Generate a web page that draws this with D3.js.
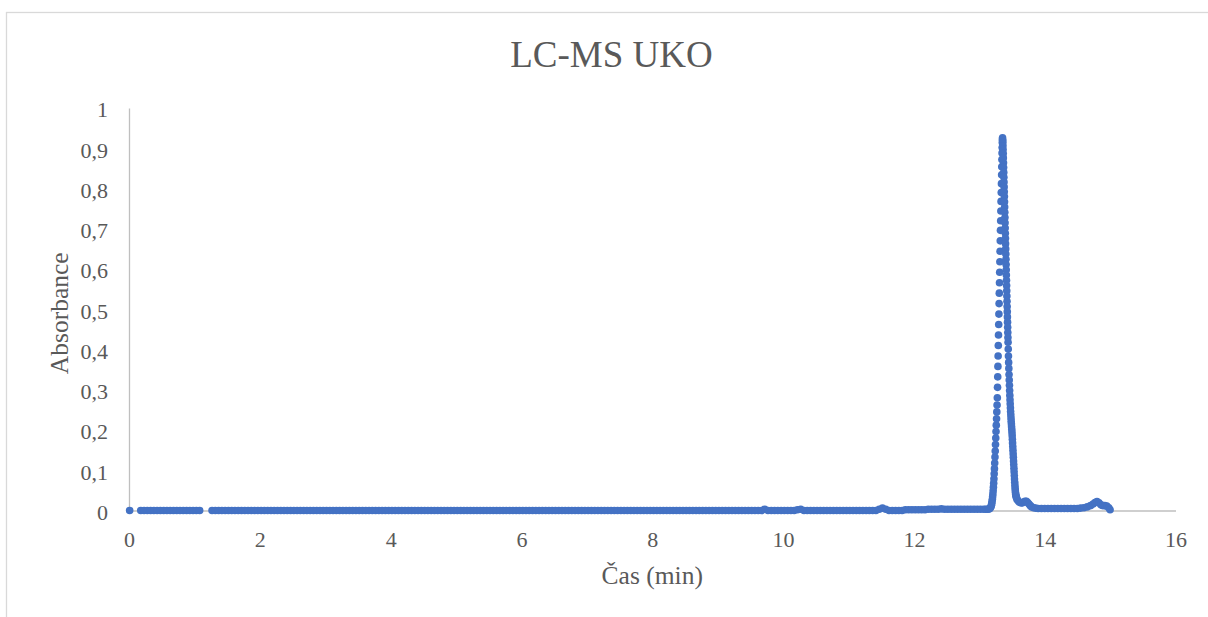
<!DOCTYPE html>
<html>
<head>
<meta charset="utf-8">
<script src="https://cdn.jsdelivr.net/npm/d3@7"></script>
<style>
  body { margin: 0; background: #fff; }
  svg { display: block; font-family: "Liberation Serif", "Times New Roman", serif; }
</style>
</head>
<body>
<svg id="chart" width="1208" height="617"></svg>
<script>
// Chromatogram trace: retention time (min) and absorbance.
// Baseline before the main peak (two acquisition runs separated by a short gap).
const baselineTime = [
  0.01,
  0.18,0.23,0.28,0.33,0.38,0.43,0.48,0.53,0.58,0.63,0.68,0.73,0.78,0.83,0.88,0.93,0.98,1.03,1.08,
  1.27,1.32,1.37,1.42,1.47,1.52,1.57,1.62,1.67,1.72,1.77,1.82,1.87,1.92,1.97,
  2.02,2.07,2.12,2.17,2.22,2.27,2.32,2.37,2.42,2.47,2.52,2.57,2.62,2.67,2.72,2.77,2.82,2.87,2.92,2.97,
  3.02,3.07,3.12,3.17,3.22,3.27,3.32,3.37,3.42,3.47,3.52,3.57,3.62,3.67,3.72,3.77,3.82,3.87,3.92,3.97,
  4.02,4.07,4.12,4.17,4.22,4.27,4.32,4.37,4.42,4.47,4.52,4.57,4.62,4.67,4.72,4.77,4.82,4.87,4.92,4.97,
  5.02,5.07,5.12,5.17,5.22,5.27,5.32,5.37,5.42,5.47,5.52,5.57,5.62,5.67,5.72,5.77,5.82,5.87,5.92,5.97,
  6.02,6.07,6.12,6.17,6.22,6.27,6.32,6.37,6.42,6.47,6.52,6.57,6.62,6.67,6.72,6.77,6.82,6.87,6.92,6.97,
  7.02,7.07,7.12,7.17,7.22,7.27,7.32,7.37,7.42,7.47,7.52,7.57,7.62,7.67,7.72,7.77,7.82,7.87,7.92,7.97,
  8.02,8.07,8.12,8.17,8.22,8.27,8.32,8.37,8.42,8.47,8.52,8.57,8.62,8.67,8.72,8.77,8.82,8.87,8.92,8.97,
  9.02,9.07,9.12,9.17,9.22,9.27,9.32,9.37,9.42,9.47,9.52,9.57,9.62,9.67,9.72,9.77,9.82,9.87,9.92,9.97,
  10.02,10.07,10.12,10.17,10.22,10.27,10.32,10.37,10.42,10.47,10.52,10.57,10.62,10.67,10.72,10.77,10.82,10.87,10.92,10.97,
  11.02,11.07,11.12,11.17,11.22,11.27,11.32,11.37,11.42,11.47,11.52,11.57,11.62,11.67,11.72,11.77,11.82,11.87,11.92,11.97,
  12.02,12.07,12.12,12.17,12.22,12.27,12.32,12.37,12.42,12.47,12.52,12.57,12.62,12.67,12.72,12.77,12.82,12.87,12.92,12.97,
  13.02,13.07
];
const baselineAbs = [
  0,
  0,0,0,0,0,0,0,0,0,0,0,0,0,0,0,0,0,0,0,
  0,0,0,0,0,0,0,0,0,0,0,0,0,0,0,
  0,0,0,0,0,0,0,0,0,0,0,0,0,0,0,0,0,0,0,0,
  0,0,0,0,0,0,0,0,0,0,0,0,0,0,0,0,0,0,0,0,
  0,0,0,0,0,0,0,0,0,0,0,0,0,0,0,0,0,0,0,0,
  0,0,0,0,0,0,0,0,0,0,0,0,0,0,0,0,0,0,0,0,
  0,0,0,0,0,0,0,0,0,0,0,0,0,0,0,0,0,0,0,0,
  0,0,0,0,0,0,0,0,0,0,0,0,0,0,0,0,0,0,0,0,
  0,0,0,0,0,0,0,0,0,0,0,0,0,0,0,0,0,0,0,0,
  0,0,0,0,0,0,0,0,0,0,0,0,0,0,0.003,0,0,0,0,0,
  0,0,0,0,0.002,0.003,0,0,0,0,0,0,0,0,0,0,0,0,0,0,
  0,0,0,0,0,0,0,0,0,0.003,0.006,0.003,0,0,0,0,0,0.002,0.002,0.002,
  0.002,0.002,0.002,0.002,0.003,0.003,0.003,0.003,0.004,0.003,0.003,0.003,0.003,0.003,0.003,0.003,0.003,0.003,0.003,0.003,
  0.003,0.003
];

// Main peak, its tail and the late small peak near 14.8 min.
const peakTime = [
  13.1,13.13,13.15,13.16,13.17,13.18,13.185,13.19,13.195,13.2,
  13.204,13.208,13.212,13.216,13.22,13.224,13.228,13.232,13.236,13.24,
  13.244,13.248,13.252,13.256,13.26,13.264,13.268,13.272,13.276,13.279,
  13.282,13.285,13.288,13.291,13.294,13.297,13.3,13.303,13.306,13.309,
  13.312,13.315,13.318,13.321,13.324,13.327,13.33,13.333,13.336,13.339,
  13.342,13.344,13.346,13.348,13.35,13.352,13.354,13.356,13.358,13.36,
  13.362,13.364,13.366,13.368,13.37,13.372,13.374,13.376,13.378,13.38,
  13.382,13.384,13.386,13.388,13.39,13.392,13.394,13.396,13.398,13.4,
  13.402,13.404,13.406,13.408,13.41,13.412,13.414,13.416,13.418,13.42,
  13.422,13.424,13.426,13.428,13.43,13.432,13.434,13.436,13.438,13.44,
  13.443,13.446,13.449,13.452,13.455,13.458,13.461,13.464,13.467,13.47,
  13.473,13.476,13.479,13.482,13.485,13.488,13.491,13.494,13.497,13.5,
  13.503,13.506,13.509,13.512,13.515,13.518,13.521,13.524,13.527,13.53,
  13.533,13.536,13.539,13.542,13.545,13.548,13.551,13.554,13.557,13.56,
  13.565,13.57,13.58,13.6,13.62,13.64,13.66,13.68,13.7,13.72,
  13.74,13.76,13.78,13.8,13.83,13.86,13.9,13.95,14,14.05,
  14.1,14.15,14.2,14.25,14.3,14.35,14.4,14.45,14.5,14.55,
  14.6,14.65,14.7,14.74,14.77,14.8,14.83,14.86,14.89,14.92,
  14.95,14.98,15
];
const peakAbs = [
  0.003,0.003,0.004,0.005,0.007,0.01,0.013,0.017,0.022,0.028,
  0.034,0.041,0.049,0.058,0.068,0.079,0.091,0.104,0.118,0.133,
  0.148,0.164,0.18,0.196,0.212,0.228,0.245,0.262,0.28,0.306,
  0.332,0.358,0.384,0.41,0.436,0.462,0.488,0.514,0.54,0.566,
  0.592,0.618,0.644,0.67,0.696,0.72,0.744,0.768,0.79,0.812,
  0.834,0.854,0.872,0.888,0.902,0.914,0.922,0.926,0.92,0.914,
  0.906,0.897,0.887,0.876,0.864,0.852,0.84,0.828,0.816,0.804,
  0.792,0.78,0.767,0.754,0.741,0.728,0.715,0.702,0.689,0.676,
  0.663,0.65,0.637,0.624,0.611,0.598,0.585,0.572,0.559,0.546,
  0.533,0.52,0.507,0.494,0.481,0.468,0.455,0.442,0.43,0.418,
  0.401,0.384,0.368,0.353,0.338,0.324,0.311,0.298,0.286,0.275,
  0.265,0.255,0.246,0.238,0.23,0.222,0.215,0.208,0.201,0.194,
  0.186,0.177,0.168,0.159,0.15,0.141,0.132,0.123,0.114,0.105,
  0.096,0.087,0.078,0.07,0.062,0.055,0.049,0.044,0.04,0.037,
  0.034,0.031,0.027,0.023,0.02,0.019,0.019,0.021,0.023,0.023,
  0.02,0.016,0.012,0.009,0.007,0.006,0.005,0.005,0.005,0.005,
  0.005,0.005,0.005,0.005,0.005,0.005,0.005,0.005,0.005,0.006,
  0.007,0.009,0.012,0.016,0.02,0.022,0.019,0.014,0.012,0.012,
  0.011,0.007,0.002
];

const xTicks = [0, 2, 4, 6, 8, 10, 12, 14, 16];
const yTicks = [0, 0.1, 0.2, 0.3, 0.4, 0.5, 0.6, 0.7, 0.8, 0.9, 1];

const chartTitle = "LC-MS UKO";
const xTitle = "Čas (min)";
const yTitle = "Absorbance";

// ---- drawing ----
const svg = d3.select("#chart");
const textColor = "#595959";
const axisColor = "#bfbfbf";
const markerColor = "#4472C4";

svg.append("rect")
  .attr("x", 0).attr("y", 0).attr("width", 1208).attr("height", 617)
  .attr("fill", "#ffffff");

// chart area frame
svg.append("rect")
  .attr("x", 6.5).attr("y", 12.5)
  .attr("width", 1230).attr("height", 640)
  .attr("fill", "none")
  .attr("stroke", "#d9d9d9")
  .attr("stroke-width", 1.3);

const x = d3.scaleLinear().domain([0, 16]).range([129, 1175.5]);
const y = d3.scaleLinear().domain([0, 1]).range([510.5, 108]);

const decimalComma = d => String(d).replace(".", ",");

// x axis
const gx = svg.append("g")
  .attr("transform", `translate(0,${y(0)})`)
  .call(d3.axisBottom(x).tickValues(xTicks).tickFormat(decimalComma)
    .tickSize(0).tickSizeOuter(0).tickPadding(21));

// y axis
const gy = svg.append("g")
  .attr("transform", `translate(${x(0)},0)`)
  .call(d3.axisLeft(y).tickValues(yTicks).tickFormat(decimalComma)
    .tickSize(0).tickSizeOuter(0).tickPadding(21));

[gx, gy].forEach(g => {
  g.select(".domain").attr("stroke", axisColor).attr("stroke-width", 1.3);
  g.selectAll("text")
    .attr("fill", textColor)
    .style("font-family", '"Liberation Serif", "Times New Roman", serif')
    .style("font-size", "22px");
});
gy.selectAll("text").attr("dy", "0.4em");

// title and axis titles
svg.append("text")
  .attr("x", 611.5).attr("y", 67)
  .attr("text-anchor", "middle")
  .attr("fill", textColor)
  .style("font-size", "37px")
  .text(chartTitle);

svg.append("text")
  .attr("x", (x.range()[0] + x.range()[1]) / 2).attr("y", 584)
  .attr("text-anchor", "middle")
  .attr("fill", textColor)
  .style("font-size", "25.5px")
  .text(xTitle);

svg.append("text")
  .attr("transform", `translate(68,${(y(0) + y(1)) / 2 + 4}) rotate(-90)`)
  .attr("text-anchor", "middle")
  .attr("fill", textColor)
  .style("font-size", "25.5px")
  .text(yTitle);

// markers
const points = baselineTime.map((t, i) => ({ t, a: baselineAbs[i] }))
  .concat(peakTime.map((t, i) => ({ t, a: peakAbs[i] })));

svg.append("g")
  .selectAll("circle")
  .data(points)
  .join("circle")
  .attr("cx", d => x(d.t))
  .attr("cy", d => y(d.a))
  .attr("r", 3.8)
  .attr("fill", markerColor);
</script>
</body>
</html>
